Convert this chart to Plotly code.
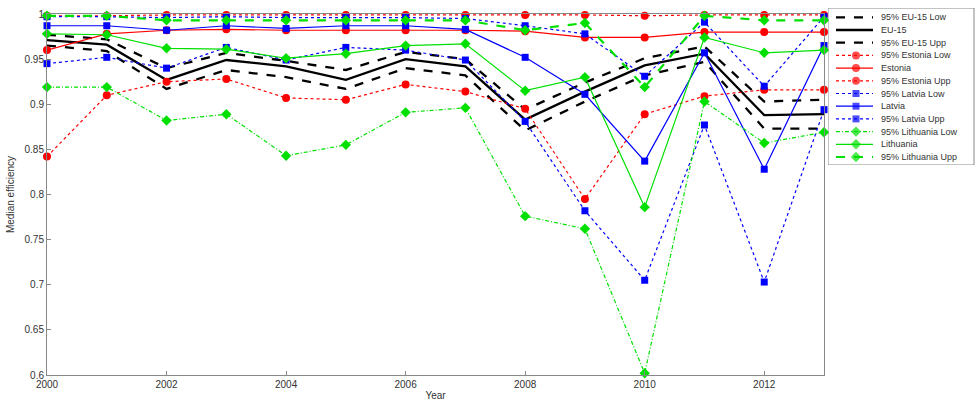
import plotly.graph_objects as go

years = list(range(2000, 2014))

eu15_low = [0.965, 0.959, 0.917, 0.938, 0.930, 0.917, 0.940, 0.932, 0.871, 0.903, 0.932, 0.947, 0.873, 0.873]
eu15 = [0.971, 0.966, 0.927, 0.949, 0.942, 0.927, 0.950, 0.942, 0.883, 0.914, 0.943, 0.956, 0.888, 0.889]
eu15_upp = [0.977, 0.972, 0.940, 0.957, 0.948, 0.938, 0.958, 0.950, 0.894, 0.924, 0.951, 0.964, 0.903, 0.905]

estonia_low = [0.842, 0.910, 0.925, 0.928, 0.907, 0.905, 0.922, 0.914, 0.895, 0.795, 0.889, 0.909, 0.916, 0.916]
estonia = [0.960, 0.978, 0.982, 0.983, 0.982, 0.982, 0.982, 0.982, 0.981, 0.974, 0.974, 0.980, 0.980, 0.980]
estonia_upp = [0.998, 0.998, 0.999, 0.999, 0.999, 0.999, 0.999, 0.999, 0.999, 0.999, 0.998, 0.999, 0.999, 0.999]

latvia_low = [0.945, 0.952, 0.940, 0.963, 0.949, 0.963, 0.960, 0.949, 0.881, 0.782, 0.705, 0.877, 0.703, 0.894]
latvia = [0.987, 0.987, 0.982, 0.987, 0.984, 0.987, 0.987, 0.983, 0.952, 0.911, 0.837, 0.957, 0.828, 0.965]
latvia_upp = [0.997, 0.997, 0.996, 0.997, 0.996, 0.996, 0.996, 0.995, 0.987, 0.978, 0.931, 0.991, 0.920, 0.997]

lithuania_low = [0.919, 0.919, 0.882, 0.889, 0.843, 0.855, 0.891, 0.896, 0.776, 0.762, 0.602, 0.903, 0.857, 0.869]
lithuania = [0.978, 0.977, 0.962, 0.961, 0.951, 0.956, 0.965, 0.967, 0.915, 0.930, 0.786, 0.974, 0.957, 0.960]
lithuania_upp = [0.998, 0.998, 0.993, 0.993, 0.993, 0.993, 0.993, 0.993, 0.982, 0.990, 0.919, 0.998, 0.993, 0.993]

y_ticks = [0.6, 0.65, 0.7, 0.75, 0.8, 0.85, 0.9, 0.95, 1.0]
y_tick_labels = ["0.6", "0.65", "0.7", "0.75", "0.8", "0.85", "0.9", "0.95", "1"]
x_ticks = [2000, 2002, 2004, 2006, 2008, 2010, 2012]

RED = "#ff0000"
BLUE = "#0000ff"
GREEN = "#00e000"
DASHDOT = "4px,2px,1px,2px"

series = [
    ("95% EU-15 Low", eu15_low, "black", "dash", 2.3, None),
    ("EU-15", eu15, "black", "solid", 2.3, None),
    ("95% EU-15 Upp", eu15_upp, "black", "dash", 2.3, None),
    ("95% Estonia Low", estonia_low, RED, "dot", 1.2, "circle"),
    ("Estonia", estonia, RED, "solid", 1.2, "circle"),
    ("95% Estonia Upp", estonia_upp, RED, "dot", 1.2, "circle"),
    ("95% Latvia Low", latvia_low, BLUE, "dot", 1.2, "square"),
    ("Latvia", latvia, BLUE, "solid", 1.2, "square"),
    ("95% Latvia Upp", latvia_upp, BLUE, "dot", 1.2, "square"),
    ("95% Lithuania Low", lithuania_low, GREEN, DASHDOT, 1.2, "diamond"),
    ("Lithuania", lithuania, GREEN, "solid", 1.2, "diamond"),
    ("95% Lithuania Upp", lithuania_upp, GREEN, "dash", 2.2, "diamond"),
]

def marker_size(symbol):
    return 7 if symbol == "square" else 8

fig = go.Figure()
for name, vals, color, dash, width, symbol in series:
    kw = dict(x=years, y=vals, name=name, showlegend=False,
              line=dict(color=color, dash=dash, width=width),
              cliponaxis=False, xaxis="x", yaxis="y")
    if symbol is None:
        fig.add_trace(go.Scatter(mode="lines", **kw))
    else:
        fig.add_trace(go.Scatter(mode="lines+markers",
                                 marker=dict(symbol=symbol, size=marker_size(symbol),
                                             color=color, line=dict(width=0)),
                                 **kw))

# Compact MATLAB-style legend drawn on a hidden helper axis (units = pixels)
legend_step = 12.7
legend_first = 9.3
annotations = []
for i, (name, vals, color, dash, width, symbol) in enumerate(series):
    yy = legend_first + i * legend_step
    if symbol is None:
        fig.add_trace(go.Scatter(x=[8, 45], y=[yy, yy], mode="lines",
                                 line=dict(color=color, dash=dash, width=width),
                                 showlegend=False, hoverinfo="skip",
                                 xaxis="x2", yaxis="y2", cliponaxis=False))
    else:
        fig.add_trace(go.Scatter(x=[8, 28, 45], y=[yy, yy, yy], mode="lines+markers",
                                 line=dict(color=color, dash=dash, width=width),
                                 marker=dict(symbol=symbol, size=[0, marker_size(symbol), 0],
                                             color=color, line=dict(width=0)),
                                 showlegend=False, hoverinfo="skip",
                                 xaxis="x2", yaxis="y2", cliponaxis=False))
    annotations.append(dict(x=51, y=yy, xref="x2", yref="y2", text=name,
                            showarrow=False, xanchor="left", yanchor="middle",
                            font=dict(size=9, color="#333333")))

axis_common = dict(
    showline=True, linecolor="#888888", linewidth=1, mirror=True,
    ticks="inside", ticklen=4, tickcolor="#888888",
    showgrid=False, zeroline=False,
    tickfont=dict(family="Arial, Liberation Sans, sans-serif", size=10, color="#333333"),
)

# paper: left margin 47, right 0 -> width 928; top 8, bottom 32 -> height 367
fig.update_layout(
    width=975, height=407,
    margin=dict(l=47, r=0, t=8, b=32, autoexpand=False),
    paper_bgcolor="white", plot_bgcolor="white",
    font=dict(family="Arial, Liberation Sans, sans-serif", size=10, color="#333333"),
    showlegend=False,
    xaxis=dict(domain=[0, 777 / 928], range=[2000, 2013], tickvals=x_ticks,
               ticktext=[str(v) for v in x_ticks],
               title=dict(text="Year", standoff=2, font=dict(size=10)), **axis_common),
    yaxis=dict(domain=[0, 361 / 367], range=[0.6, 1.0], tickvals=y_ticks, ticktext=y_tick_labels,
               title=dict(text="Median efficiency", standoff=8, font=dict(size=10)), **axis_common),
    xaxis2=dict(domain=[781 / 928, 1], range=[0, 147], visible=False, fixedrange=True),
    yaxis2=dict(domain=[210 / 367, 1], range=[157, 0], visible=False, fixedrange=True),
    shapes=[dict(type="rect", xref="x2", yref="y2", x0=0, x1=146, y0=0, y1=157,
                 line=dict(color="#888888", width=1), fillcolor="rgba(0,0,0,0)", layer="below")],
    annotations=annotations,
)

fig.write_html("out.html", config={"displayModeBar": False},
               post_script="document.body.style.margin='0px';document.body.style.overflow='hidden';")
